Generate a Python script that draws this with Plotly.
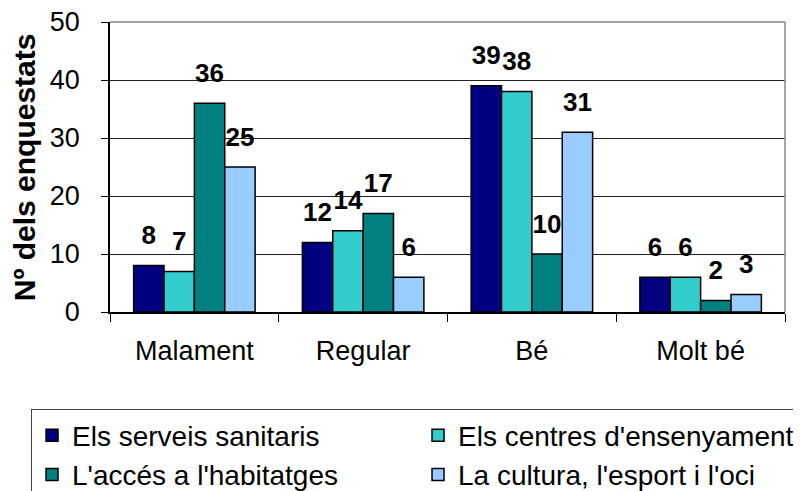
import plotly.graph_objects as go

# categories on the x axis
categories = ["Malament", "Regular", "Bé", "Molt bé"]

# one list per series
series_names = [
    "Els serveis sanitaris",
    "Els centres d'ensenyament",
    "L'accés a l'habitatges",
    "La cultura, l'esport i l'oci",
]
serveis = [8, 12, 39, 6]
centres = [7, 14, 38, 6]
habitatges = [36, 17, 10, 2]
cultura = [25, 6, 31, 3]

y_ticks = [0, 10, 20, 30, 40, 50]

colors = ["#000080", "#33CCCC", "#008080", "#99CCFF"]
all_values = [serveis, centres, habitatges, cultura]

LABEL_LIFT = 4.8  # data units between bar top and the centre of its label

fig = go.Figure()

for i, (name, vals) in enumerate(zip(series_names, all_values)):
    fig.add_trace(go.Bar(
        x=categories, y=vals, name=name,
        marker=dict(color=colors[i], line=dict(color="black", width=1.5)),
        offsetgroup=str(i),
    ))

# value labels sit a bit above each bar, like in the original
for i, vals in enumerate(all_values):
    fig.add_trace(go.Scatter(
        x=categories, y=[v + LABEL_LIFT for v in vals],
        mode="text", text=[str(v) for v in vals],
        textposition="middle center",
        textfont=dict(family="Liberation Sans", size=26, color="black", weight="bold"),
        offsetgroup=str(i), showlegend=False, cliponaxis=False, hoverinfo="skip",
    ))

# page body has an 8px margin, so the figure is 8px smaller than the window
fig.update_layout(
    width=793, height=483,
    margin=dict(l=102, r=16, t=14, b=179, autoexpand=False),
    plot_bgcolor="white", paper_bgcolor="white",
    barmode="group", bargap=0.28, bargroupgap=0,
    scattermode="group", scattergap=0.28,
    font=dict(family="Liberation Sans", color="black"),
    legend=dict(
        orientation="h", x=-0.117, y=-0.336, xanchor="left", yanchor="top",
        entrywidth=341, entrywidthmode="pixels",
        bordercolor="#444", borderwidth=1, bgcolor="white",
        font=dict(size=28), traceorder="normal",
    ),
)

fig.update_xaxes(
    showline=True, linecolor="black", linewidth=1.5,
    ticks="outside", ticklen=8, tickcolor="black", tickson="boundaries",
    tickfont=dict(size=27), ticklabelstandoff=14,
    showgrid=False,
)
fig.update_yaxes(
    range=[0, 50], tickvals=y_ticks,
    showline=True, linecolor="black", linewidth=1.5,
    ticks="outside", ticklen=7, tickcolor="black",
    tickfont=dict(size=27), ticklabelstandoff=16, ticklabeloverflow="allow",
    showgrid=True, gridcolor="#222", gridwidth=1,
)

# grey frame on top and right
fig.add_shape(type="line", xref="paper", yref="paper", x0=0, x1=1, y0=1, y1=1,
              line=dict(color="#888", width=1.5), layer="above")
fig.add_shape(type="line", xref="paper", yref="paper", x0=1, x1=1, y0=0, y1=1,
              line=dict(color="#888", width=1.5), layer="above")

# y axis title
fig.add_annotation(
    text="<b>Nº dels enquestats</b>", textangle=-90,
    xref="paper", yref="paper", x=-0.127, y=0.5,
    xanchor="center", yanchor="middle", showarrow=False,
    font=dict(family="Liberation Sans", size=30, color="black"),
)

fig.write_html("out.html")
